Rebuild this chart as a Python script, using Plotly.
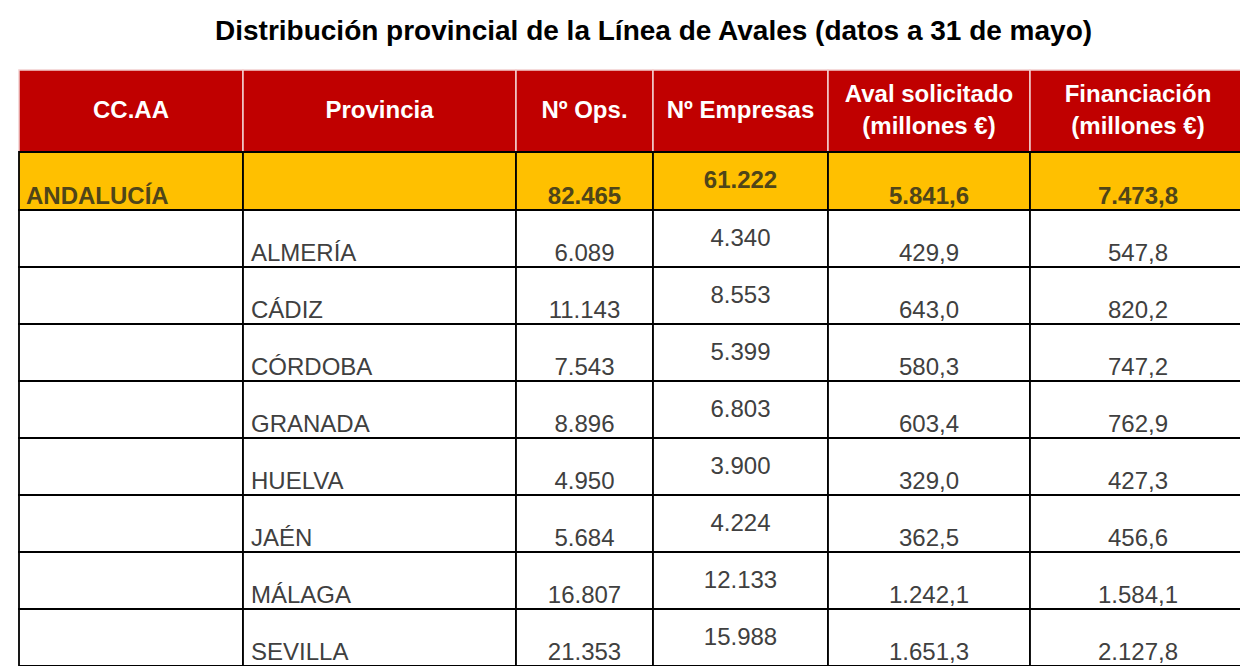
import plotly.graph_objects as go

columnas = ["CC.AA", "Provincia", "Nº Ops.", "Nº Empresas",
            "Aval solicitado<br>(millones €)", "Financiación<br>(millones €)"]
ccaa = "ANDALUCÍA"
provincias = ["ALMERÍA", "CÁDIZ", "CÓRDOBA", "GRANADA", "HUELVA", "JAÉN", "MÁLAGA", "SEVILLA"]
ops = [6089, 11143, 7543, 8896, 4950, 5684, 16807, 21353]
empresas = [4340, 8553, 5399, 6803, 3900, 4224, 12133, 15988]
aval = [429.9, 643.0, 580.3, 603.4, 329.0, 362.5, 1242.1, 1651.3]
financiacion = [547.8, 820.2, 747.2, 762.9, 427.3, 456.6, 1584.1, 2127.8]
total_ops = 82465
total_empresas = 61222
total_aval = 5841.6
total_financiacion = 7473.8


def fmt_int(n):
    return f"{n:,}".replace(",", ".")


def fmt_dec(v):
    return f"{v:,.1f}".replace(",", "X").replace(".", ",").replace("X", ".")


# layout (page pixel grid); the page body has an 8px margin
W, H = 1248, 666
OFF = 8
col_edges = [19, 243, 516, 653, 828, 1030, 1246]
header_top, header_bottom = 70, 152
row_edges = [152, 210] + [210 + 57 * k for k in range(1, 9)]

RED = "#c00000"
YELLOW = "#ffc000"
BODY = "#404040"
OLIVE = "#4f4519"
FONT = "Liberation Sans"
FS = 24

fig = go.Figure()
shapes = []

# header cells
for c in range(6):
    shapes.append(dict(type="rect", x0=col_edges[c], x1=col_edges[c + 1],
                       y0=header_top, y1=header_bottom, fillcolor=RED,
                       line=dict(color="#f2d0d0", width=1.5), layer="below"))

# body cells
for r in range(len(row_edges) - 1):
    fill = YELLOW if r == 0 else "white"
    for c in range(6):
        shapes.append(dict(type="rect", x0=col_edges[c], x1=col_edges[c + 1],
                           y0=row_edges[r], y1=row_edges[r + 1], fillcolor=fill,
                           line=dict(color="black", width=1.8), layer="below"))

centers = [(col_edges[c] + col_edges[c + 1]) / 2 for c in range(6)]

# header text
fig.add_trace(go.Scatter(
    x=centers, y=[(header_top + header_bottom) / 2 + 1] * 6, text=columnas,
    mode="text", textposition="middle center",
    textfont=dict(family=FONT, size=FS, color="white", weight="bold"),
    hoverinfo="skip", showlegend=False))

# totals row
r0_bot = row_edges[1]
r0_mid = (row_edges[0] + row_edges[1]) / 2
total_font = dict(family=FONT, size=FS, color=OLIVE, weight="bold")
fig.add_trace(go.Scatter(
    x=[col_edges[0] + 7], y=[r0_bot - 12], text=[ccaa], mode="text",
    textposition="middle right", textfont=total_font,
    hoverinfo="skip", showlegend=False))
fig.add_trace(go.Scatter(
    x=[centers[2], centers[4], centers[5]], y=[r0_bot - 12] * 3,
    text=[fmt_int(total_ops), fmt_dec(total_aval), fmt_dec(total_financiacion)],
    mode="text", textposition="middle center", textfont=total_font,
    hoverinfo="skip", showlegend=False))
fig.add_trace(go.Scatter(
    x=[centers[3]], y=[r0_mid + 1], text=[fmt_int(total_empresas)], mode="text",
    textposition="middle center", textfont=total_font,
    hoverinfo="skip", showlegend=False))

# province rows
bottoms = [row_edges[i + 2] - 12 for i in range(len(provincias))]
mids = [(row_edges[i + 1] + row_edges[i + 2]) / 2 + 1 for i in range(len(provincias))]
body_font = dict(family=FONT, size=FS, color=BODY)

fig.add_trace(go.Scatter(
    x=[col_edges[1] + 8] * len(provincias), y=bottoms, text=provincias,
    mode="text", textposition="middle right", textfont=body_font,
    hoverinfo="skip", showlegend=False))
for c, vals in [(2, [fmt_int(v) for v in ops]),
                (4, [fmt_dec(v) for v in aval]),
                (5, [fmt_dec(v) for v in financiacion])]:
    fig.add_trace(go.Scatter(
        x=[centers[c]] * len(vals), y=bottoms, text=vals,
        mode="text", textposition="middle center", textfont=body_font,
        hoverinfo="skip", showlegend=False))
fig.add_trace(go.Scatter(
    x=[centers[3]] * len(empresas), y=mids, text=[fmt_int(v) for v in empresas],
    mode="text", textposition="middle center", textfont=body_font,
    hoverinfo="skip", showlegend=False))

fig.update_layout(
    width=W - OFF, height=H - OFF,
    margin=dict(l=0, r=0, t=0, b=0),
    paper_bgcolor="white", plot_bgcolor="white",
    shapes=shapes,
    xaxis=dict(range=[OFF, W], visible=False, fixedrange=True),
    yaxis=dict(range=[H, OFF], visible=False, fixedrange=True),
    annotations=[dict(
        x=653, y=30, xref="x", yref="y", showarrow=False,
        text="Distribución provincial de la Línea de Avales (datos a 31 de mayo)",
        font=dict(family=FONT, size=28, color="black", weight="bold"))],
)

fig.write_html("out.html")
